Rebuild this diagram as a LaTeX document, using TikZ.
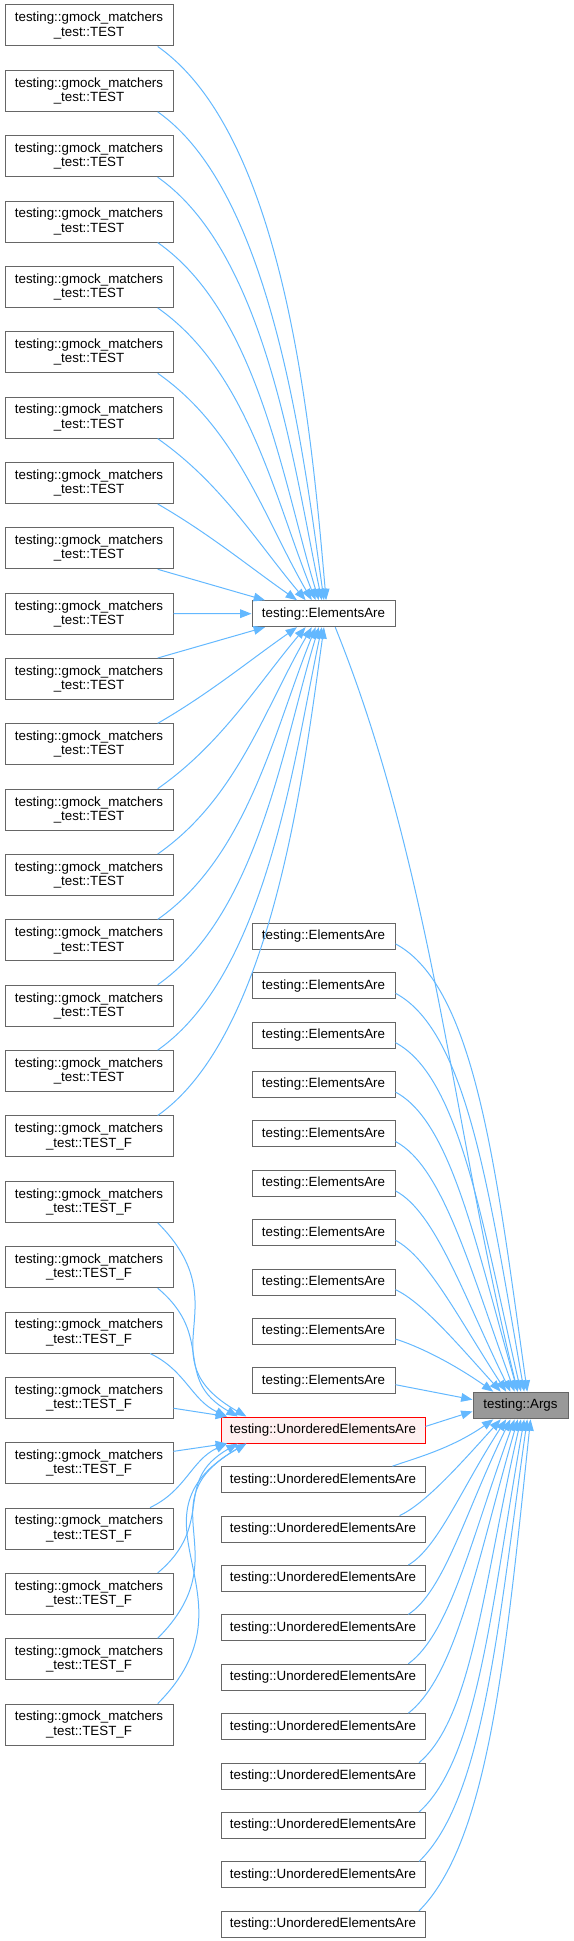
\documentclass[tikz,border=0pt]{standalone}
\usepackage{fontspec}
\setmainfont{Liberation Sans}
\usepackage{tikz}
\usetikzlibrary{arrows.meta}
\definecolor{edgeblue}{HTML}{63B8FF}
\definecolor{boxgray}{HTML}{666666}
\definecolor{argsfill}{HTML}{999999}
\definecolor{focusfill}{HTML}{FFF0F0}
\tikzset{
  fn/.style      ={rectangle,draw=boxgray,fill=white,line width=0.75pt,inner sep=0pt,align=center,
                   font=\fontsize{10pt}{10.7pt}\selectfont},
  tcase/.style   ={fn,minimum width=126pt,minimum height=30.75pt},
  ea/.style      ={fn,minimum width=107.25pt,minimum height=19.5pt},
  uea/.style     ={fn,minimum width=153pt,minimum height=19.5pt},
  focusbox/.style={fill=focusfill,draw=red},
  argsbox/.style ={fn,fill=argsfill,minimum width=71.25pt,minimum height=20pt},
  call/.style    ={edgeblue,line width=0.75pt,-{Triangle[length=8.5pt,width=6.5pt]}},
}

\begin{document}
\begin{tikzpicture}[x=0.75pt,y=0.75pt]
  \useasboundingbox (0,0) rectangle (574,-1941);
  % callers
  \foreach \i in {0,...,26}{
     \pgfmathsetmacro\yy{-(25.5+65.35*\i)}
     \ifnum\i<17 \def\tail{TEST}\else\def\tail{TEST\_F}\fi
     \node[tcase] (t\i) at (89,\yy) {testing::gmock\_matchers\\\_test::\tail};
  }
  \node[ea] (ea) at (323.5,-613.7) {testing::ElementsAre};
  \foreach \k in {0,...,9}{
     \pgfmathsetmacro\yy{-(936.3+49.4*\k)}
     \node[ea] (ea\k) at (323.5,\yy) {testing::ElementsAre};
  }
  \node[uea,focusbox] (uea0) at (323,-1430) {testing::UnorderedElementsAre};
  \foreach \k in {1,...,10}{
     \pgfmathsetmacro\yy{-(1430.3+49.4*\k)}
     \node[uea] (uea\k) at (323,\yy) {testing::UnorderedElementsAre};
  }
  \node[argsbox] (args) at (520.5,-1405.5) {testing::Args};

  % TEST -> ElementsAre
  \foreach \i/\e/\o/\n/\l in {0/79/-35/95/0.7, 1/88/-35/98/0.7, 2/97/-35/102/0.75,
      3/109/-35/107/0.8, 4/120/-35/112/0.85, 5/131/-35/120/0.9, 6/143/-35/130/0.9,
      7/153/-30/145/0.9, 8/167/-16/164/1}
     \draw[call] (t\i.-17) to[out=\o,in=\n,looseness=\l] (ea.\e);
  \draw[call] (t9) -- (ea);
  \foreach \i/\e/\o/\n/\l in {10/-167/16/-164/1, 11/-153/30/-145/0.9, 12/-143/35/-130/0.9,
      13/-131/35/-120/0.9, 14/-120/35/-112/0.85, 15/-109/35/-107/0.8,
      16/-97/35/-102/0.75, 17/-88/35/-98/0.7}
     \draw[call] (t\i.17) to[out=\o,in=\n,looseness=\l] (ea.\e);

  % TEST_F -> UnorderedElementsAre
  \foreach \i/\s/\e/\o/\n/\l in {18/-17/170/-45/150/1.43, 19/-17/171/-40/150/1.3,
      20/-19/172/-25/155/1, 23/19/-172/25/-155/1, 24/17/-171/40/-150/1.3,
      25/17/-170/45/-150/1.43, 26/17/-170/45/-150/1.4}
     \draw[call] (t\i.\s) to[out=\o,in=\n,looseness=\l] (uea0.\e);
  \draw[call] (t21.-7) -- (uea0.172);
  \draw[call] (t22.8) -- (uea0.-172);

  % callees of Args
  \draw[call] (ea.-49) to[out=-68,in=104,looseness=0.85] (args.101);
  \foreach \k/\e/\o/\n in {0/64/-28/98, 1/75/-28/100, 2/88/-28/103, 3/101/-28/106,
      4/113/-28/110, 5/126/-28/116, 6/136/-28/123, 7/145/-25/132, 8/153/-17/145}
     \draw[call] (ea\k.-6) to[out=\o,in=\n,out looseness=0.5,in looseness=1.2] (args.\e);
  \draw[call] (ea9.-3) -- (args.173);
  \draw[call] (uea0.2) -- (args.187);
  \foreach \k/\s/\e/\o/\n in {1/11/-153/20/-145, 2/10/-145/25/-132, 3/9/-136/30/-123,
      4/9/-126/33/-116, 5/9/-113/36/-110, 6/9/-101/38/-106, 7/8/-88/40/-103,
      8/8/-75/42/-100, 9/8/-64/44/-98, 10/8/-54/45/-96}
     \draw[call] (uea\k.\s) to[out=\o,in=\n,out looseness=0.5,in looseness=1.2] (args.\e);
\end{tikzpicture}
\end{document}
